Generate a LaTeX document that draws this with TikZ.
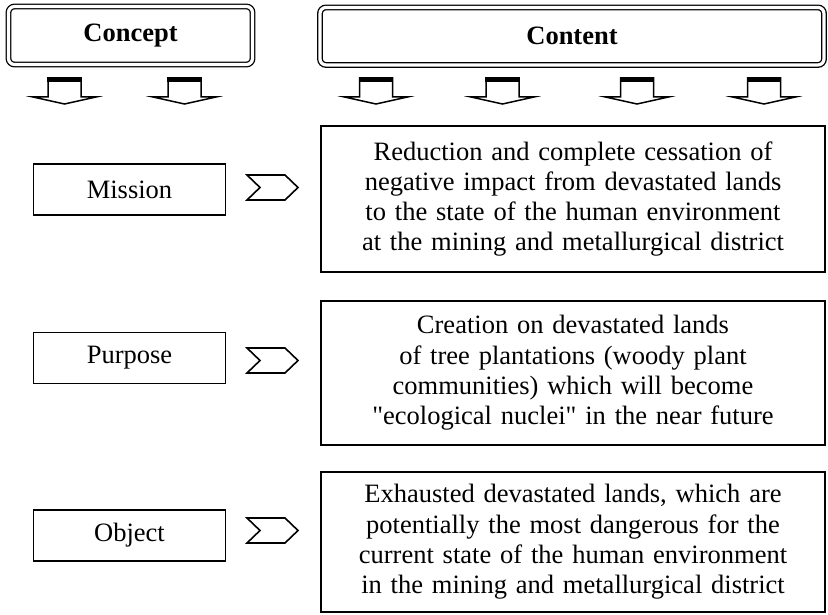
\documentclass[tikz,border=0pt]{standalone}
\usepackage{fontspec}
\setmainfont{Liberation Serif}[Ligatures=TeXOff]
\begin{document}
\begin{tikzpicture}[x=1pt,y=-1pt,
  every node/.style={font=\fontsize{26.5}{30.3}\selectfont},
  header/.style={draw, line width=1.3pt, double, double distance=3.2pt,
    rounded corners=6pt, inner sep=0pt, font=\fontsize{26.5}{30.3}\selectfont\bfseries},
  labelbox/.style={draw, line width=1.6pt, inner sep=0pt, minimum width=192pt, minimum height=51pt},
  contentbox/.style={draw, line width=1.6pt, inner sep=0pt, text width=504pt, align=center},
  downarrow/.style={draw, line width=1.5pt, fill=white, line join=miter},
  chev/.style={draw, line width=1.6pt, line join=miter}]
\useasboundingbox (0,0) rectangle (828,615);

% headers
\node[header, minimum width=244pt, minimum height=58pt] (concept) at (130.5,35.5) {Concept};
\node[header, minimum width=504pt, minimum height=57.5pt] (content) at (572,36.2) {Content};

% down arrows
\foreach \cx in {64.5,184.5,376,502.5,637,764}{
  \draw[downarrow] (\cx-16.5,78) -- (\cx+16.5,78) -- (\cx+16.5,97) -- (\cx+31.5,97)
    -- (\cx,104) -- (\cx-31.5,97) -- (\cx-16.5,97) -- cycle;
  \fill (\cx-17.3,77) rectangle (\cx+17.3,82.5);
}

% concept boxes
\node[labelbox] (mission) at (129.5,189.5) {Mission};
\node[labelbox] (purpose) at (129.5,358) {Purpose};
\node[labelbox] (object) at (129.5,535.5) {Object};

% content boxes
\node[contentbox, minimum height=146pt] (missiontxt) at (573,199) {Reduction and complete cessation of\\
negative impact from devastated lands\\
to the state of the human environment\\
at the mining and metallurgical district};
\node[contentbox, minimum height=144pt] (purposetxt) at (573,373) {Creation on devastated lands\\
of tree plantations (woody plant\\
communities) which will become\\
"ecological nuclei" in the near future};
\node[contentbox, minimum height=140pt] (objecttxt) at (573,542) {Exhausted devastated lands, which are\\
potentially the most dangerous for the\\
current state of the human environment\\
in the mining and metallurgical district};

% chevrons
\foreach \cy/\nm in {187.5/chm, 360.5/chp, 530.5/cho}{
  \coordinate (\nm) at (272,\cy);
  \draw[chev] ([shift={(-25,-12.5)}]\nm) -- ([shift={(13,-12.5)}]\nm) -- ([shift={(26,0)}]\nm)
    -- ([shift={(13,12.5)}]\nm) -- ([shift={(-25,12.5)}]\nm) -- ([shift={(-12,0)}]\nm) -- cycle;
}
\end{tikzpicture}
\end{document}
